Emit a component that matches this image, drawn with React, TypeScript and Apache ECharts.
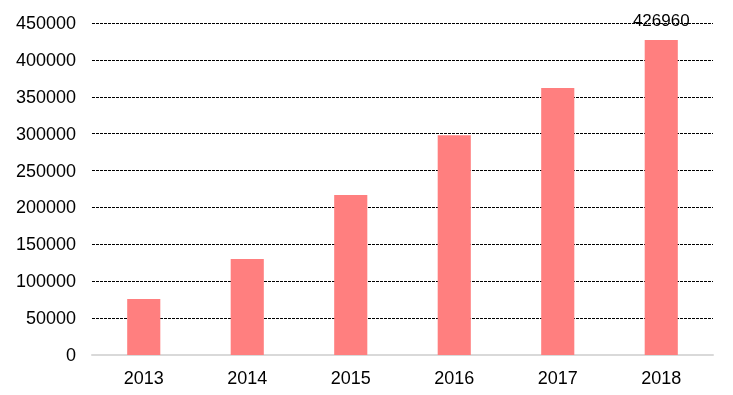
import React, { useEffect, useRef } from "react";
import * as echarts from "echarts";

const categories = ["2013", "2014", "2015", "2016", "2017", "2018"];
const values = [76000, 130000, 217000, 298000, 362000, 426960];
const labelIndex = 5;

export default function App() {
  const ref = useRef<HTMLDivElement>(null);
  useEffect(() => {
    if (!ref.current) return;
    const chart = echarts.init(ref.current, undefined, { renderer: "svg" });
    chart.setOption({
      animation: false,
      grid: { left: 92, right: 20, top: 23, bottom: 40 },
      xAxis: {
        type: "category",
        data: categories,
        axisLine: { lineStyle: { color: "#d9d9d9", width: 2 } },
        axisTick: { show: false },
        axisLabel: { color: "#000", fontSize: 18, fontFamily: "Liberation Sans, Arial", margin: 14 },
      },
      yAxis: {
        type: "value",
        min: 0,
        max: 450000,
        interval: 50000,
        axisLine: { show: false },
        axisTick: { show: false },
        axisLabel: {
          color: "#000",
          fontSize: 18,
          fontFamily: "Liberation Sans, Arial",
          margin: 16,
          formatter: (v: number) => String(v),
        },
        splitLine: { lineStyle: { color: "#000", width: 1, type: [3, 1] } },
      },
      series: [
        {
          type: "bar",
          barWidth: "32%",
          data: values.map((v, i) => ({
            value: v,
            label: {
              show: i === labelIndex,
              position: "top",
              distance: 11,
              color: "#000",
              fontSize: 17,
              fontFamily: "Liberation Sans, Arial",
            },
          })),
          itemStyle: { color: "#FF7F7F" },
        },
      ],
    });
    return () => chart.dispose();
  }, []);
  return <div ref={ref} style={{ position: "fixed", left: 0, top: 0, width: 733, height: 395 }} />;
}
